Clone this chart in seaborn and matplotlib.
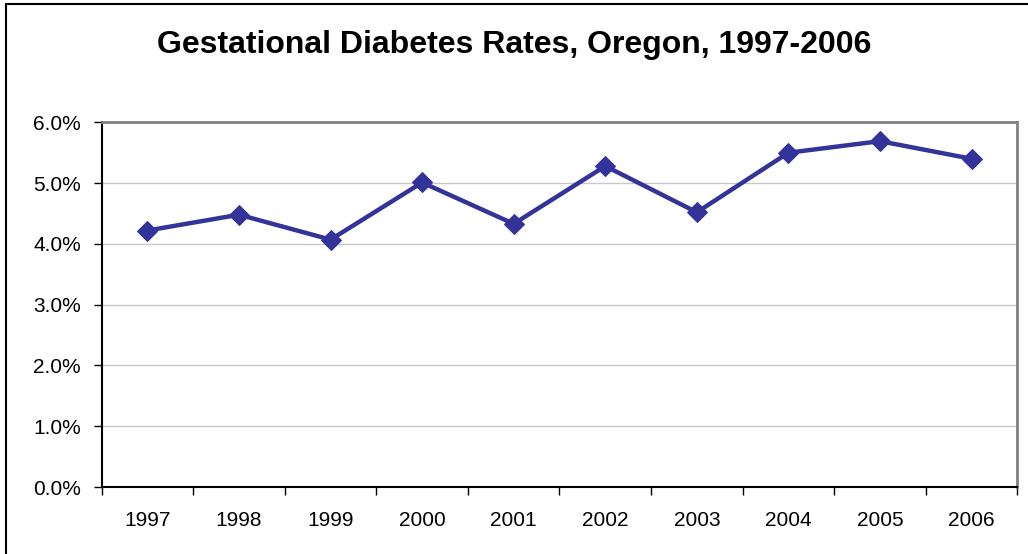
import matplotlib
matplotlib.use("Agg")
import matplotlib.pyplot as plt
import seaborn as sns
import pandas as pd
import numpy as np
from matplotlib.ticker import FixedLocator, FuncFormatter
from matplotlib.patches import Rectangle

years = ["1997", "1998", "1999", "2000", "2001", "2002", "2003", "2004", "2005", "2006"]
rates = [4.22, 4.48, 4.07, 5.01, 4.33, 5.28, 4.52, 5.50, 5.69, 5.40]
y_ticks = [0, 1, 2, 3, 4, 5, 6]
title = "Gestational Diabetes Rates, Oregon, 1997-2006"

sns.set_style("white")
plt.rcParams['font.family'] = ['Liberation Sans', 'DejaVu Sans']
plt.rcParams['text.color'] = 'black'
plt.rcParams['xtick.color'] = 'black'
plt.rcParams['ytick.color'] = 'black'

df = pd.DataFrame({"pos": np.arange(len(years)), "year": years, "rate": rates})

fig = plt.figure(figsize=(10.28, 5.54), dpi=100)
ax = fig.add_axes([0.0989, 0.1209, 0.8907, 0.6583])

sns.lineplot(data=df, x="pos", y="rate", ax=ax, color="#333399", linewidth=3.2,
             marker="D", markersize=10.5, markeredgecolor="#333399", zorder=3)

ax.set_xlim(-0.5, len(years) - 0.5)
ax.set_ylim(0, 6)
ax.yaxis.set_major_locator(FixedLocator(y_ticks))
ax.yaxis.set_major_formatter(FuncFormatter(lambda v, p: f"{v:.1f}%"))
ax.grid(axis="y", color="#c8c8c8", linewidth=1.0)
ax.set_axisbelow(True)

# category boundaries as major ticks, labels at centres as minor ticks
ax.set_xticks(np.arange(-0.5, len(years), 1.0))
ax.set_xticklabels([])
ax.set_xticks(np.arange(len(years)), minor=True)
ax.set_xticklabels(years, minor=True)
ax.tick_params(axis="x", which="major", length=6, width=1, color="black", direction="out", bottom=True)
ax.tick_params(axis="x", which="minor", length=0, pad=17, labelsize=15, labelcolor="black")
ax.tick_params(axis="y", length=6, width=1, color="black", direction="out", left=True, pad=9,
               labelsize=15, labelcolor="black")

ax.set_xlabel("")
ax.set_ylabel("")

for s in ["left", "bottom"]:
    ax.spines[s].set_color("black")
    ax.spines[s].set_linewidth(1.5)
for s in ["top", "right"]:
    ax.spines[s].set_visible(True)
    ax.spines[s].set_color("#808080")
    ax.spines[s].set_linewidth(2.0)

fig.text(0.5, 1 - 45 / 554, title, ha="center", va="center", fontsize=23, fontweight="bold",
         color="black")

# outer chart border (left and top visible)
fig.patches.append(Rectangle((6 / 1028, -0.1), 1.2, 1 - 4 / 554 + 0.1, transform=fig.transFigure,
                             fill=False, edgecolor="black", linewidth=1.5))

fig.savefig("out.png", dpi=100)
